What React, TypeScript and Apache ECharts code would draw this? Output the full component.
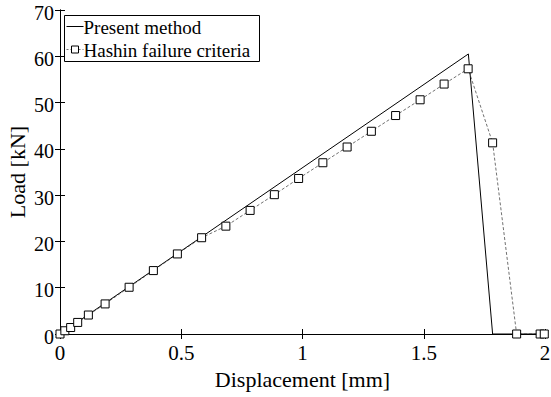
import React, { useEffect, useRef } from "react";
import * as echarts from "echarts";

// Load–displacement curves
const presentX = [0, 1.684, 1.784, 2.0];
const presentY = [0, 60.5, 0, 0];

const hashinX = [0, 0.02, 0.044, 0.073, 0.117, 0.186, 0.285, 0.385, 0.484, 0.584, 0.684, 0.784, 0.884, 0.984, 1.084, 1.184, 1.284, 1.384, 1.485, 1.584, 1.683, 1.784, 1.883, 1.98, 1.997];
const hashinY = [0, 0.7, 1.4, 2.5, 4.1, 6.5, 10.1, 13.7, 17.3, 20.8, 23.3, 26.7, 30.1, 33.6, 37.0, 40.4, 43.8, 47.2, 50.6, 54.0, 57.3, 41.3, 0, 0, 0];

const yTicks = [0, 10, 20, 30, 40, 50, 60, 70];

const seriesNames = ["Present method", "Hashin failure criteria"];
const xTitle = "Displacement [mm]";
const yTitle = "Load [kN]";

const FONT = "'Liberation Serif', 'Times New Roman', serif";
const INK = "#000";

export default function App() {
  const ref = useRef<HTMLDivElement>(null);

  useEffect(() => {
    if (!ref.current) return;
    const chart = echarts.init(ref.current, null, { renderer: "svg" });

    const tickStyle = { show: true, inside: true, length: 5, lineStyle: { color: INK, width: 1 } };
    const lineAx = { show: true, lineStyle: { color: INK, width: 1 } };

    // Boxed legend in the upper-left corner of the plot
    const legendGraphic = {
      type: "group",
      left: 64,
      top: 15,
      z: 10,
      children: [
        { type: "rect", shape: { x: 0, y: 0, width: 195, height: 46 }, style: { fill: "#fff", stroke: INK, lineWidth: 1 } },
        { type: "line", shape: { x1: 2, y1: 11, x2: 19, y2: 11 }, style: { stroke: INK, lineWidth: 1 } },
        { type: "text", x: 19, y: 12, style: { text: seriesNames[0], font: `19px ${FONT}`, fill: INK, verticalAlign: "middle" } },
        { type: "line", shape: { x1: 2, y1: 34, x2: 19, y2: 34 }, style: { stroke: "#333", lineWidth: 0.7, lineDash: [2, 2] } },
        { type: "rect", shape: { x: 7, y: 30.5, width: 7, height: 7 }, style: { fill: "#fff", stroke: INK, lineWidth: 1 } },
        { type: "text", x: 19, y: 35, style: { text: seriesNames[1], font: `19px ${FONT}`, fill: INK, verticalAlign: "middle" } },
      ],
    };

    chart.setOption({
      animation: false,
      backgroundColor: "#fff",
      grid: { left: 60, right: 6, top: 10, bottom: 63, containLabel: false, outerBoundsMode: "none" },
      graphic: [legendGraphic],
      xAxis: [
        {
          type: "value",
          min: 0,
          max: 2,
          interval: 0.5,
          position: "bottom",
          axisLine: lineAx,
          axisTick: tickStyle,
          splitLine: { show: false },
          axisLabel: { fontFamily: FONT, fontSize: 21, color: INK, margin: 8 },
          name: xTitle,
          nameLocation: "middle",
          nameGap: 34,
          nameTextStyle: { fontFamily: FONT, fontSize: 22, color: INK },
        },
        {
          type: "value",
          min: 0,
          max: 2,
          interval: 0.5,
          position: "top",
          axisLine: lineAx,
          axisTick: tickStyle,
          splitLine: { show: false },
          axisLabel: { show: false },
        },
      ],
      yAxis: [
        {
          type: "value",
          min: 0,
          max: 70,
          interval: 10,
          position: "left",
          axisLine: lineAx,
          axisTick: tickStyle,
          splitLine: { show: false },
          axisLabel: { show: false },
          name: yTitle,
          nameLocation: "middle",
          nameGap: 32,
          nameTextStyle: { fontFamily: FONT, fontSize: 22, color: INK },
        },
        {
          type: "value",
          min: 0,
          max: 70,
          interval: 10,
          position: "right",
          axisLine: lineAx,
          axisTick: tickStyle,
          splitLine: { show: false },
          axisLabel: { show: false },
        },
      ],
      series: [
        {
          name: seriesNames[0],
          type: "line",
          data: presentX.map((x, i) => [x, presentY[i]]),
          symbol: "none",
          lineStyle: { color: INK, width: 1 },
          itemStyle: { color: INK },
          z: 3,
        },
        {
          name: seriesNames[1],
          type: "line",
          data: hashinX.map((x, i) => [x, hashinY[i]]),
          symbol: "rect",
          symbolSize: 8,
          showAllSymbol: true,
          lineStyle: { color: "#333", width: 0.7, type: [3, 2] },
          itemStyle: { color: "#fff", borderColor: INK, borderWidth: 1 },
          z: 4,
        },
      ],
    });

    // Y tick labels placed from the axis scale, sitting slightly below each tick
    const yLabels = yTicks.map((v) => {
      const py = chart.convertToPixel({ yAxisIndex: 0 }, v) as number;
      return {
        type: "text",
        x: 54,
        y: py + 2.5,
        style: { text: String(v), font: `20px ${FONT}`, fill: INK, align: "right", verticalAlign: "middle" },
      };
    });
    chart.setOption({ graphic: [legendGraphic, ...yLabels] });

    return () => chart.dispose();
  }, []);

  return (
    <div
      ref={ref}
      style={{ position: "absolute", left: 0, top: 0, width: 551, height: 397 }}
    />
  );
}
